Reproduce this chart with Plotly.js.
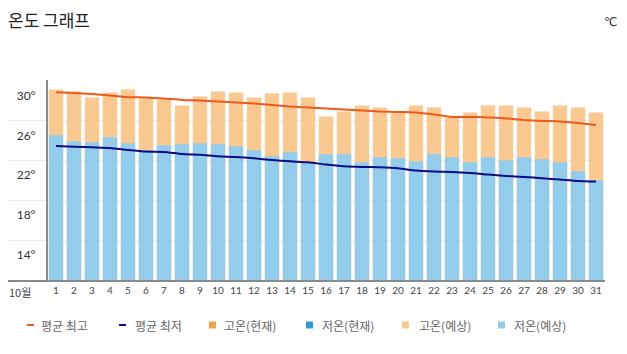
<!DOCTYPE html>
<html>
<head>
<meta charset="utf-8">
<script src="https://cdn.plot.ly/plotly-3.0.1.min.js"></script>
<style>html,body{margin:0;padding:0;background:#fff;}#chart{width:627px;height:354px;}</style>
</head>
<body>
<div id="chart"></div>
<script>
var days = ['1','2','3','4','5','6','7','8','9','10','11','12','13','14','15','16','17','18','19','20','21','22','23','24','25','26','27','28','29','30','31'];
var highForecast = [30.6,30.4,29.8,30.3,30.6,29.8,29.6,29.0,29.9,30.4,30.3,29.8,30.2,30.3,29.8,27.9,28.4,29.0,28.8,28.4,29.0,28.8,27.8,28.3,29.0,29.0,28.8,28.4,29.0,28.8,28.3];
var lowForecast = [26.0,25.4,25.3,25.8,25.2,24.5,25.0,25.1,25.2,25.1,24.9,24.5,23.9,24.3,23.3,24.1,24.1,23.3,23.8,23.7,23.4,24.1,23.8,23.3,23.8,23.5,23.8,23.6,23.3,22.4,21.5];
var avgHigh = [30.33,30.25,30.15,30.0,29.83,29.8,29.7,29.55,29.5,29.4,29.3,29.2,29.05,28.9,28.8,28.7,28.6,28.5,28.4,28.35,28.3,28.1,27.85,27.85,27.8,27.7,27.55,27.45,27.4,27.25,27.05];
var avgLow = [24.93,24.87,24.8,24.73,24.53,24.37,24.33,24.13,24.05,23.9,23.83,23.7,23.53,23.4,23.3,23.07,22.9,22.83,22.8,22.7,22.47,22.37,22.33,22.23,22.07,21.93,21.83,21.7,21.57,21.43,21.37];
var yTickVals = [14,18,22,26,30];
var yTickText = ['14°','18°','22°','26°','30°'];
var gridVals = [15.5,19.5,23.5,27.5,31.5];
var monthLabel = '10월';
var legendLabels = ['평균 최고','평균 최저','고온(현재)','저온(현재)','고온(예상)','저온(예상)'];

var C = {hiLine:'#EE5A1E', loLine:'#0B0B86', hiNow:'#F2A04C', loNow:'#2E9BD0', hiFc:'#FAC891', loFc:'#93CDEB'};
var legendColors = [C.hiLine, C.loLine, C.hiNow, C.loNow, C.hiFc, C.loFc];
var legendKinds = ['line','line','box','box','box','box'];
var kr = '"Noto Sans CJK KR", "Noto Sans", sans-serif';

// pixel -> paper helpers (layout only)
var ML = 8, MT = 80, PW = 597, PH = 200;
function px(x){ return (x - ML) / PW; }
function py(y){ return (MT + PH - y) / PH; }

var traces = [
  {type:'bar', name:'고온(예상)', x:days, y:highForecast, marker:{color:C.hiFc}, showlegend:false, hoverinfo:'skip'},
  {type:'bar', name:'저온(예상)', x:days, y:lowForecast, marker:{color:C.loFc}, showlegend:false, hoverinfo:'skip'},
  {type:'scatter', name:'평균 최고', mode:'lines', x:days, y:avgHigh, line:{color:C.hiLine, width:2, shape:'spline', smoothing:0.6}, showlegend:false, hoverinfo:'skip'},
  {type:'scatter', name:'평균 최저', mode:'lines', x:days, y:avgLow, line:{color:C.loLine, width:2, shape:'spline', smoothing:0.6}, showlegend:false, hoverinfo:'skip'}
];

// legend built from annotations + swatch shapes
var legendSymX = [27, 119, 209, 306, 402, 498];
var legendTextX = [39, 133, 222, 320, 417, 512];
var legendY = 325;
var annotations = [
  {text:'℃', xref:'paper', yref:'paper', x:px(602), y:py(22), xanchor:'left', yanchor:'middle', showarrow:false, font:{family:'"DejaVu Sans", sans-serif', size:12, color:'#333'}},
  {text:monthLabel, xref:'paper', yref:'paper', x:px(7), y:py(292), xanchor:'left', yanchor:'middle', showarrow:false, font:{family:kr, size:11, color:'#444'}}
];
var shapes = [
  {type:'line', xref:'paper', yref:'paper', x0:px(8), x1:0, y0:0, y1:0, line:{color:'#8a8a8a', width:2}}
];
legendLabels.forEach(function(lbl, i){
  annotations.push({text:lbl, xref:'paper', yref:'paper', x:px(legendTextX[i]), y:py(legendY), xanchor:'left', yanchor:'middle', showarrow:false, font:{family:kr, size:12, color:'#666'}});
  if (legendKinds[i] === 'line') {
    shapes.push({type:'rect', xref:'paper', yref:'paper', x0:px(legendSymX[i]), x1:px(legendSymX[i]+7), y0:py(legendY-1), y1:py(legendY+1), fillcolor:legendColors[i], line:{width:0}});
  } else {
    shapes.push({type:'rect', xref:'paper', yref:'paper', x0:px(legendSymX[i]), x1:px(legendSymX[i]+7), y0:py(legendY-3.5), y1:py(legendY+3.5), fillcolor:legendColors[i], line:{width:0}});
  }
});

var layout = {
  width:627, height:354,
  margin:{l:ML, r:627-ML-PW, t:MT, b:354-MT-PH},
  paper_bgcolor:'#fff', plot_bgcolor:'#fff',
  barmode:'overlay', bargap:0.2,
  hovermode:false, showlegend:false,
  title:{text:'온도 그래프', font:{family:kr, size:17, color:'#222'}, x:8/627, xref:'container', xanchor:'left', y:1-21/354, yref:'container', yanchor:'middle'},
  xaxis:{type:'category', categoryorder:'array', categoryarray:days, range:[-0.5-(39/18), 30.5], fixedrange:true,
    showgrid:false, showline:true, linecolor:'#8a8a8a', linewidth:2, ticks:'', tickangle:0,
    tickfont:{family:'"Lato", "Open Sans", sans-serif', size:10, color:'#444'}},
  yaxis:{range:[11.5,31.55], anchor:'free', position:39/597, fixedrange:true,
    tickmode:'array', tickvals:yTickVals, ticktext:yTickText, showgrid:false, zeroline:false,
    showline:true, linecolor:'#8a8a8a', linewidth:2, ticks:'', ticklabelstandoff:8,
    tickfont:{family:'"Lato", "Open Sans", sans-serif', size:12, color:'#333'},
    minor:{tickmode:'array', tickvals:gridVals, showgrid:true, gridcolor:'#ebebeb', gridwidth:1, ticks:''}},
  annotations:annotations,
  shapes:shapes
};

Plotly.newPlot('chart', traces, layout, {displayModeBar:false, staticPlot:true});
</script>
</body>
</html>
